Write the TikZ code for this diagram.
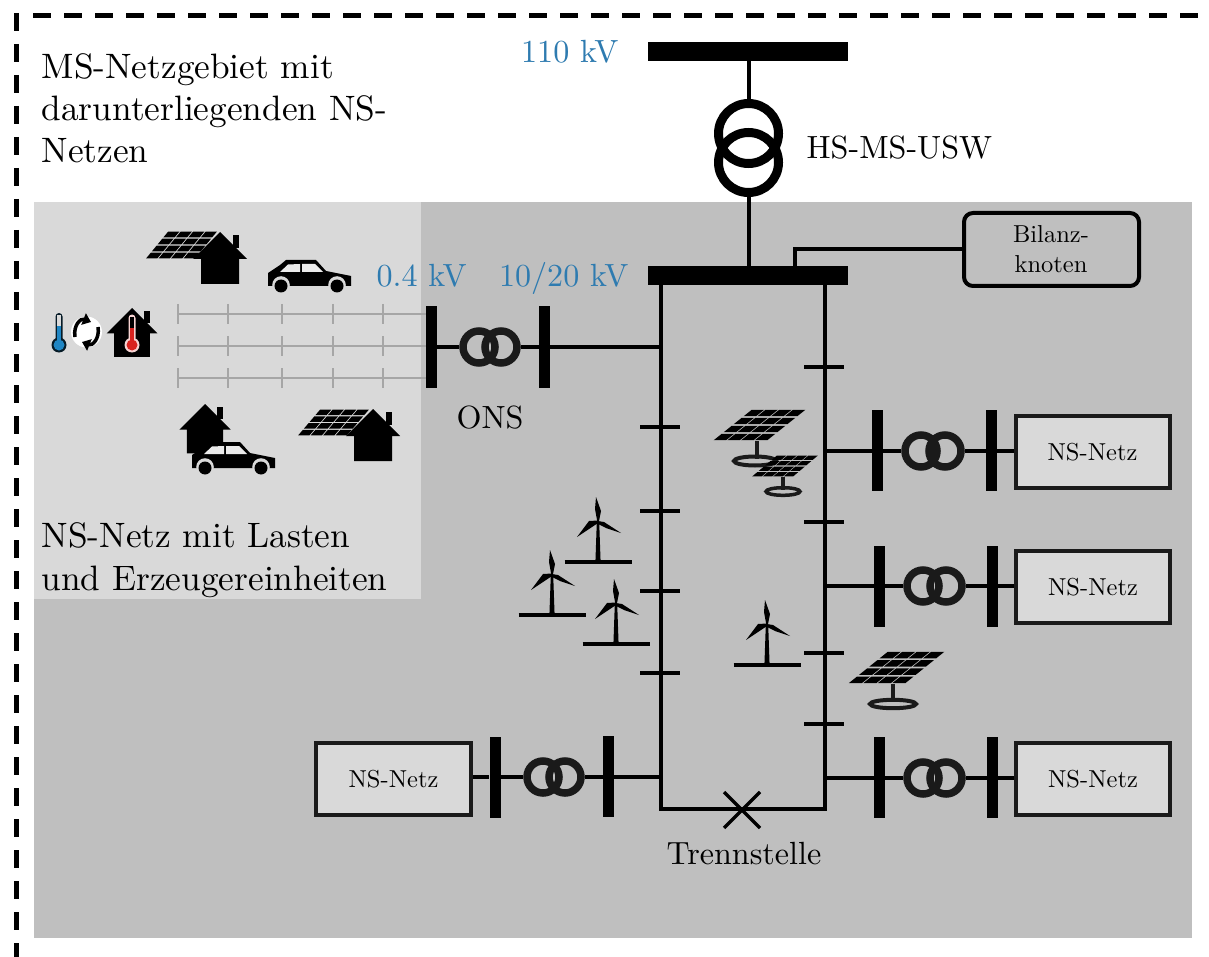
\documentclass[tikz,border=0pt]{standalone}
\usepackage{fontspec}
\usetikzlibrary{arrows.meta}
\definecolor{bgdark}{HTML}{BFBFBF}
\definecolor{bglight}{HTML}{D9D9D9}
\definecolor{volt}{HTML}{2E7BB0}
\definecolor{trafo}{HTML}{1A1A1A}
\definecolor{feeder}{HTML}{A6A6A6}
\definecolor{thblue}{HTML}{1F86C4}
\definecolor{thred}{HTML}{D8231F}
\newcommand\solarcells[5]{% bl x, bl y, bottom width, skew, height
  \foreach \i in {0,1,2,3}{\foreach \j in {0,1,2,3}{
    \fill[black] ({#1+(\i+.05)*#3/4+(\j+.1)*#4/4},{#2-(\j+.1)*#5/4})
      -- ({#1+(\i+.95)*#3/4+(\j+.1)*#4/4},{#2-(\j+.1)*#5/4})
      -- ({#1+(\i+.95)*#3/4+(\j+.9)*#4/4},{#2-(\j+.9)*#5/4})
      -- ({#1+(\i+.05)*#3/4+(\j+.9)*#4/4},{#2-(\j+.9)*#5/4}) -- cycle;
  }}}
\tikzset{
  x=1pt,y=-1pt,
  txt/.style={scale=3.21,inner sep=0pt,font=\fontsize{10}{12}\selectfont},
  bigtxt/.style={scale=3.53,inner sep=0pt,align=left,font=\fontsize{10}{11.9}\selectfont},
  smalltxt/.style={scale=2.45,inner sep=0pt,align=center,font=\fontsize{10}{12.5}\selectfont},
  voltage/.style={txt,text=volt},
  wire/.style={line width=4pt,black},
  thinwire/.style={line width=3.5pt,black},
  grayline/.style={line width=2pt,feeder},
  hbus/.style={fill=black,inner sep=0pt,minimum width=200pt,minimum height=19pt},
  vbus/.style={fill=black,inner sep=0pt,minimum width=11pt,minimum height=81pt},
  coil/.style={circle,draw=trafo,line width=7.5pt,inner sep=0pt,minimum size=32pt},
  hvcoil/.style={circle,draw=black,line width=9pt,inner sep=0pt,minimum size=60pt},
  nsbox/.style={draw=trafo,fill=bglight,line width=4pt,inner sep=0pt,minimum width=154pt,minimum height=72pt},
  houseshape/.pic={
    \fill[black] (0,0) -- (27,27) -- (19,27) -- (19,52) -- (-19,52) -- (-19,27) -- (-27,27) -- cycle;
    \fill[black] (13,3) rectangle (19,16);
  },
  carshape/.pic={
    \fill[black] (0,26) -- (0,13) -- (12,5) -- (18,0) -- (48,0) -- (58,11) -- (83,16) -- (83,26) -- cycle;
    \fill[white!92!black] (12,12) -- (20,4.5) -- (32,4) -- (32,12) -- cycle;
    \fill[white!92!black] (34,4) -- (47,4) -- (55,12) -- (34,12) -- cycle;
    \fill[bglight] (13,25) circle[radius=8.8];
    \fill[bglight] (69,25) circle[radius=8.8];
    \fill[black] (13,26) circle[radius=6.5];
    \fill[black] (69,26) circle[radius=6.5];
  },
  turbine/.pic={
    \fill[black] (-1.2,0) -- (1.2,0) -- (2.6,40) -- (-2.6,40) -- cycle;
    \fill[black] (-0.8,-1) -- (-3,-13) -- (-2,-25) -- (3,-11) -- (1,-1) -- cycle;
    \fill[black] (0,-1.5) -- (-9,-1) -- (-21,15) -- (-9,7) -- (0,1) -- cycle;
    \fill[black] (0,-1) -- (6,0) -- (23,11) -- (8,6) -- (0,2) -- cycle;
    \draw[line width=3.5pt,black] (-33.5,40) -- (33.5,40);
  }
}
\begin{document}
\begin{tikzpicture}
\useasboundingbox (0,0) rectangle (1209,957);
% backgrounds
\fill[white] (0,0) rectangle (1209,957);
\fill[bgdark] (34,202) rectangle (1192,938);
\fill[bglight] (34,202) rectangle (421,599);
\draw[line width=5pt,black,dash pattern=on 18pt off 13pt] (33,16) -- (1209,16);
\draw[line width=5pt,black,dash pattern=on 18pt off 13pt] (16,13) -- (16,957);

% HV part
\node[hbus] (bus110) at (748,51.5) {};
\node[hbus] (busmv) at (748,275.5) {};
\node[hvcoil] (hva) at (748.5,133.5) {};
\node[hvcoil] (hvb) at (748.5,162.5) {};
\draw[wire] (hva.north |- bus110.south) -- (hva.north);
\draw[wire] (hvb.south) -- (hvb.south |- busmv.north);
\node[draw=black,fill=none,rounded corners=9pt,line width=4pt,inner sep=0pt,minimum width=175pt,minimum height=73pt] (bilanz) at (1051.5,249.5) {};
\node[smalltxt] at (1051,249) {Bilanz-\\knoten};
\coordinate (bk) at (795,266);
\draw[wire] (bk) |- (bilanz.west);

% ring
\coordinate (l0) at (660.5,285);
\coordinate (l1) at (660.5,809);
\coordinate (r1) at (825,809);
\coordinate (r0) at (825,285);
\draw[wire] (l0) -- (l1) -- (r1) -- (r0);
\foreach \y in {427,511,591,673}{\draw[wire] (640,\y) -- (680,\y);}
\foreach \y in {367,522,653,724}{\draw[wire] (804,\y) -- (844,\y);}
\draw[thinwire] (724,792) -- (760,828);
\draw[thinwire] (760,792) -- (724,828);

% ONS station
\node[vbus,minimum height=82pt] (onsa) at (431.5,347) {};
\node[vbus,minimum height=81pt] (onsb) at (544.5,347) {};
\node[coil] (onsc) at (479,347) {};
\node[coil] (onsd) at (501,347) {};
\coordinate (onsl) at (660.5,347);
\draw[wire] (onsa.east) -- (onsc.west);
\draw[wire] (onsd.east) -- (onsb.west);
\draw[wire] (onsb.east) -- (onsl);

% feeders of the LV grid
\foreach \y/\n in {314/fa,346/fb,378/fc}{
  \coordinate (\n) at (178,\y);
  \coordinate (\n e) at (onsa.west |- \n);
  \draw[grayline] (\n) -- (\n e);
  \foreach \x in {178,228,282,333,383}{\draw[grayline] (\x,{\y-10}) -- (\x,{\y+10});}
}

% NS rows on the right
\foreach \n/\y/\ax/\bx/\cx/\dx/\by/\boxx/\boxy in {
  a/451/877.5/991.5/921/945/450/1092.5/452,
  b/586/879.5/992.5/923/946/586/1093/587,
  c/778/879.5/992.5/923/946/777/1093/779}{
  \coordinate (rs\n) at (825,\y);
  \node[vbus] (rsa\n) at (\ax,\by) {};
  \node[vbus] (rsb\n) at (\bx,\by) {};
  \node[coil] (rsc\n) at (\cx,\y) {};
  \node[coil] (rsd\n) at (\dx,\y) {};
  \node[nsbox] (rsn\n) at (\boxx,\boxy) {};
  \node[smalltxt] at (rsn\n) {NS-Netz};
  \draw[wire] (rs\n) -- (rsa\n.west |- rs\n);
  \draw[wire] (rsa\n.east |- rs\n) -- (rsc\n.west);
  \draw[wire] (rsd\n.east) -- (rsb\n.west |- rs\n);
  \draw[wire] (rsb\n.east |- rs\n) -- (rsn\n.west |- rs\n);
}

% NS row on the left
\node[nsbox,minimum width=155pt] (lsn) at (393.5,779) {};
\node[smalltxt] at (lsn) {NS-Netz};
\node[vbus] (lsa) at (495,777.5) {};
\node[vbus] (lsb) at (608.5,776.5) {};
\node[coil] (lsc) at (543,777) {};
\node[coil] (lsd) at (565,777) {};
\coordinate (lse) at (660.5,777);
\draw[wire] (lsn.east |- lse) -- (lsa.west |- lse);
\draw[wire] (lsa.east |- lse) -- (lsc.west);
\draw[wire] (lsd.east) -- (lsb.west |- lse);
\draw[wire] (lsb.east |- lse) -- (lse);

% wind turbines
\pic at (598,522) {turbine};
\pic at (552,575) {turbine};
\pic at (616,604) {turbine};
\pic at (767,625) {turbine};

% PV plants
\solarcells{712}{441}{55}{40}{32}
\draw[line width=4.5pt,trafo] (757,441) -- (757,459);
\draw[line width=4pt,trafo] (755,461) ellipse[x radius=21,y radius=4.5];
\solarcells{751}{477}{42}{26}{22}
\draw[line width=3.5pt,trafo] (783,477) -- (783,490);
\draw[line width=3.5pt,trafo] (783,491.5) ellipse[x radius=17,y radius=3.8];
\solarcells{847}{684}{58}{41}{33}
\draw[line width=4.5pt,trafo] (893,684) -- (893,702);
\draw[line width=4pt,trafo] (893,704) ellipse[x radius=23,y radius=4.2];

% houses and cars
\solarcells{145}{259}{50}{23}{28}
\pic at (220,232) {houseshape};
\pic at (268,260) {carshape};
\solarcells{297}{436}{50}{23}{27}
\pic at (373,409) {houseshape};
\pic[scale=.95] at (205,404) {houseshape};
\pic at (192,442) {carshape};

% heat pump group
\pic[scale=.94] at (132,308) {houseshape};
\fill[white!80!thred] (128.5,318) arc[start angle=180,end angle=360,radius=3.5] -- (135.5,338) -- (128.5,338) -- cycle;
\fill[white!80!thred] (132,345) circle[radius=7.5];
\fill[black] (130,317) rectangle (134,338);
\fill[thred] (130,328) rectangle (134,340);
\fill[thred] (132,345) circle[radius=5.5];
\fill[black!80!thblue] (55.5,316.5) arc[start angle=180,end angle=360,radius=3.5] -- (62.5,340) -- (55.5,340) -- cycle;
\fill[black!80!thblue] (59,345) circle[radius=7.5];
\fill[bglight] (57,315.5) rectangle (61,327);
\fill[thblue] (57,326) rectangle (61,340);
\fill[thblue] (59,345) circle[radius=5.5];
\fill[white] (86.5,332) circle[radius=15.5];
\draw[line width=3.5pt,black,-{Triangle[length=8pt,width=12pt]}] (75,337) .. controls (73,325) and (81,318) .. (91,322);
\draw[line width=3.5pt,black,-{Triangle[length=8pt,width=12pt]}] (98,327) .. controls (100,339) and (92,346) .. (82,342);

% labels
\node[bigtxt,anchor=base west] at (41,163) {MS-Netzgebiet mit\\darunterliegenden NS-\\Netzen};
\node[bigtxt,anchor=base west] at (41,590) {NS-Netz mit Lasten\\und Erzeugereinheiten};
\node[voltage,anchor=base east] at (619,63) {110 kV};
\node[voltage,anchor=base west] at (376,287) {0.4 kV};
\node[voltage,anchor=base east] at (629,287) {10/20 kV};
\node[txt,anchor=base] at (490,428) {ONS};
\node[txt,anchor=base west] at (806,159) {HS-MS-USW};
\node[txt,anchor=base] at (744,864) {Trennstelle};
\end{tikzpicture}
\end{document}
